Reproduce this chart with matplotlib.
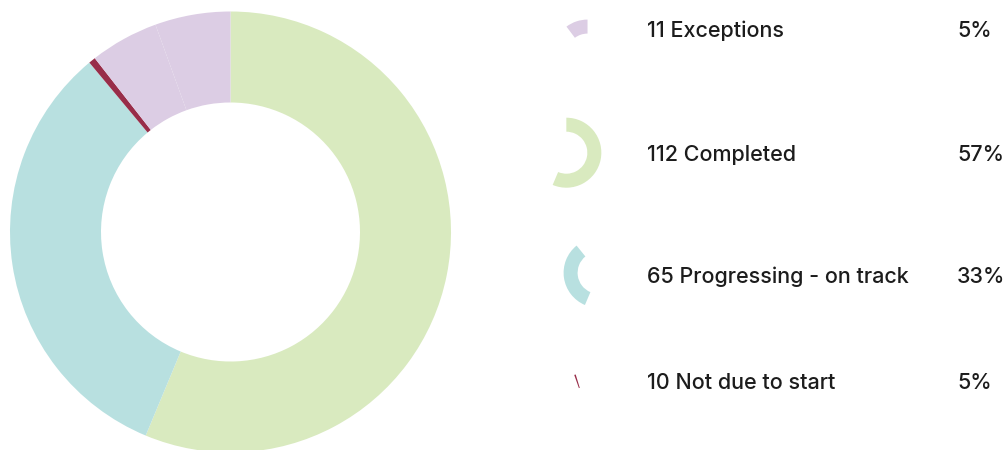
'''
Donut chart of action status with a legend on the right.
'''

import matplotlib
matplotlib.use("Agg")
import matplotlib.pyplot as plt
from matplotlib.patches import Wedge
import numpy as np

# Data
##################################################################
# slices of the ring, clockwise from 12 o'clock
slice_values = [112, 65, 1, 10, 11]
slice_colors = ["#d9eabf", "#b8e0e0", "#982d49", "#dccde4", "#dccde4"]

# legend rows
legend_counts = [11, 112, 65, 10]
legend_names = ["Exceptions", "Completed", "Progressing - on track", "Not due to start"]
legend_pcts = ["5%", "57%", "33%", "5%"]
legend_colors = ["#dccde4", "#d9eabf", "#b8e0e0", "#982d49"]
# angle span (deg, clockwise from top) that each legend icon shows
icon_spans = [(323, 360), (0, 203), (203, 321), (340.5, 343)]

# Layout
##################################################################
W, H = 1007, 450
fig = plt.figure(figsize=(W / 100, H / 100), dpi=100)
ax = fig.add_axes([0, 0, 1, 1])
ax.set_xlim(0, W)
ax.set_ylim(0, H)
ax.set_aspect("equal")
ax.axis("off")

plt.rcParams["font.family"] = ["Inter", "DejaVu Sans"]


def wedge(cx, cy, r, width, a1, a2, color):
    # a1, a2 clockwise from top -> matplotlib ccw from +x
    return Wedge((cx, cy), r, 90 - a2, 90 - a1, width=width,
                 facecolor=color, edgecolor="none", linewidth=0)


# main ring
cx, cy = 230.5, H - 232
R, ring = 220.5, 91
total = sum(slice_values)
start = 0.0
for v, c in zip(slice_values, slice_colors):
    span = v / total * 360
    ax.add_patch(wedge(cx, cy, R, ring, start, start + span, c))
    start += span

# legend
row_base = [36.7, 160.7, 283.3, 389.3]
icon_x = 577
ir, iw = 35, 14
for i in range(len(legend_names)):
    a1, a2 = icon_spans[i]
    # bounding box of the wedge so it can be centred on the row
    t = np.radians(np.linspace(a1, a2, 200))
    xs = np.concatenate([ir * np.sin(t), (ir - iw) * np.sin(t)])
    ys = np.concatenate([ir * np.cos(t), (ir - iw) * np.cos(t)])
    mx = (xs.min() + xs.max()) / 2
    my = (ys.min() + ys.max()) / 2
    yc = H - (row_base[i] - 8)
    ax.add_patch(wedge(icon_x - mx, yc - my, ir, iw, a1, a2, legend_colors[i]))

    ax.text(647, H - row_base[i], f"{legend_counts[i]} {legend_names[i]}",
            fontsize=15.5, fontweight="medium", color="#1c1c1c",
            va="baseline", ha="left")
    ax.text(957, H - row_base[i], legend_pcts[i],
            fontsize=15.5, fontweight="medium", color="#1c1c1c",
            va="baseline", ha="left")

fig.savefig("out.png", dpi=100)
